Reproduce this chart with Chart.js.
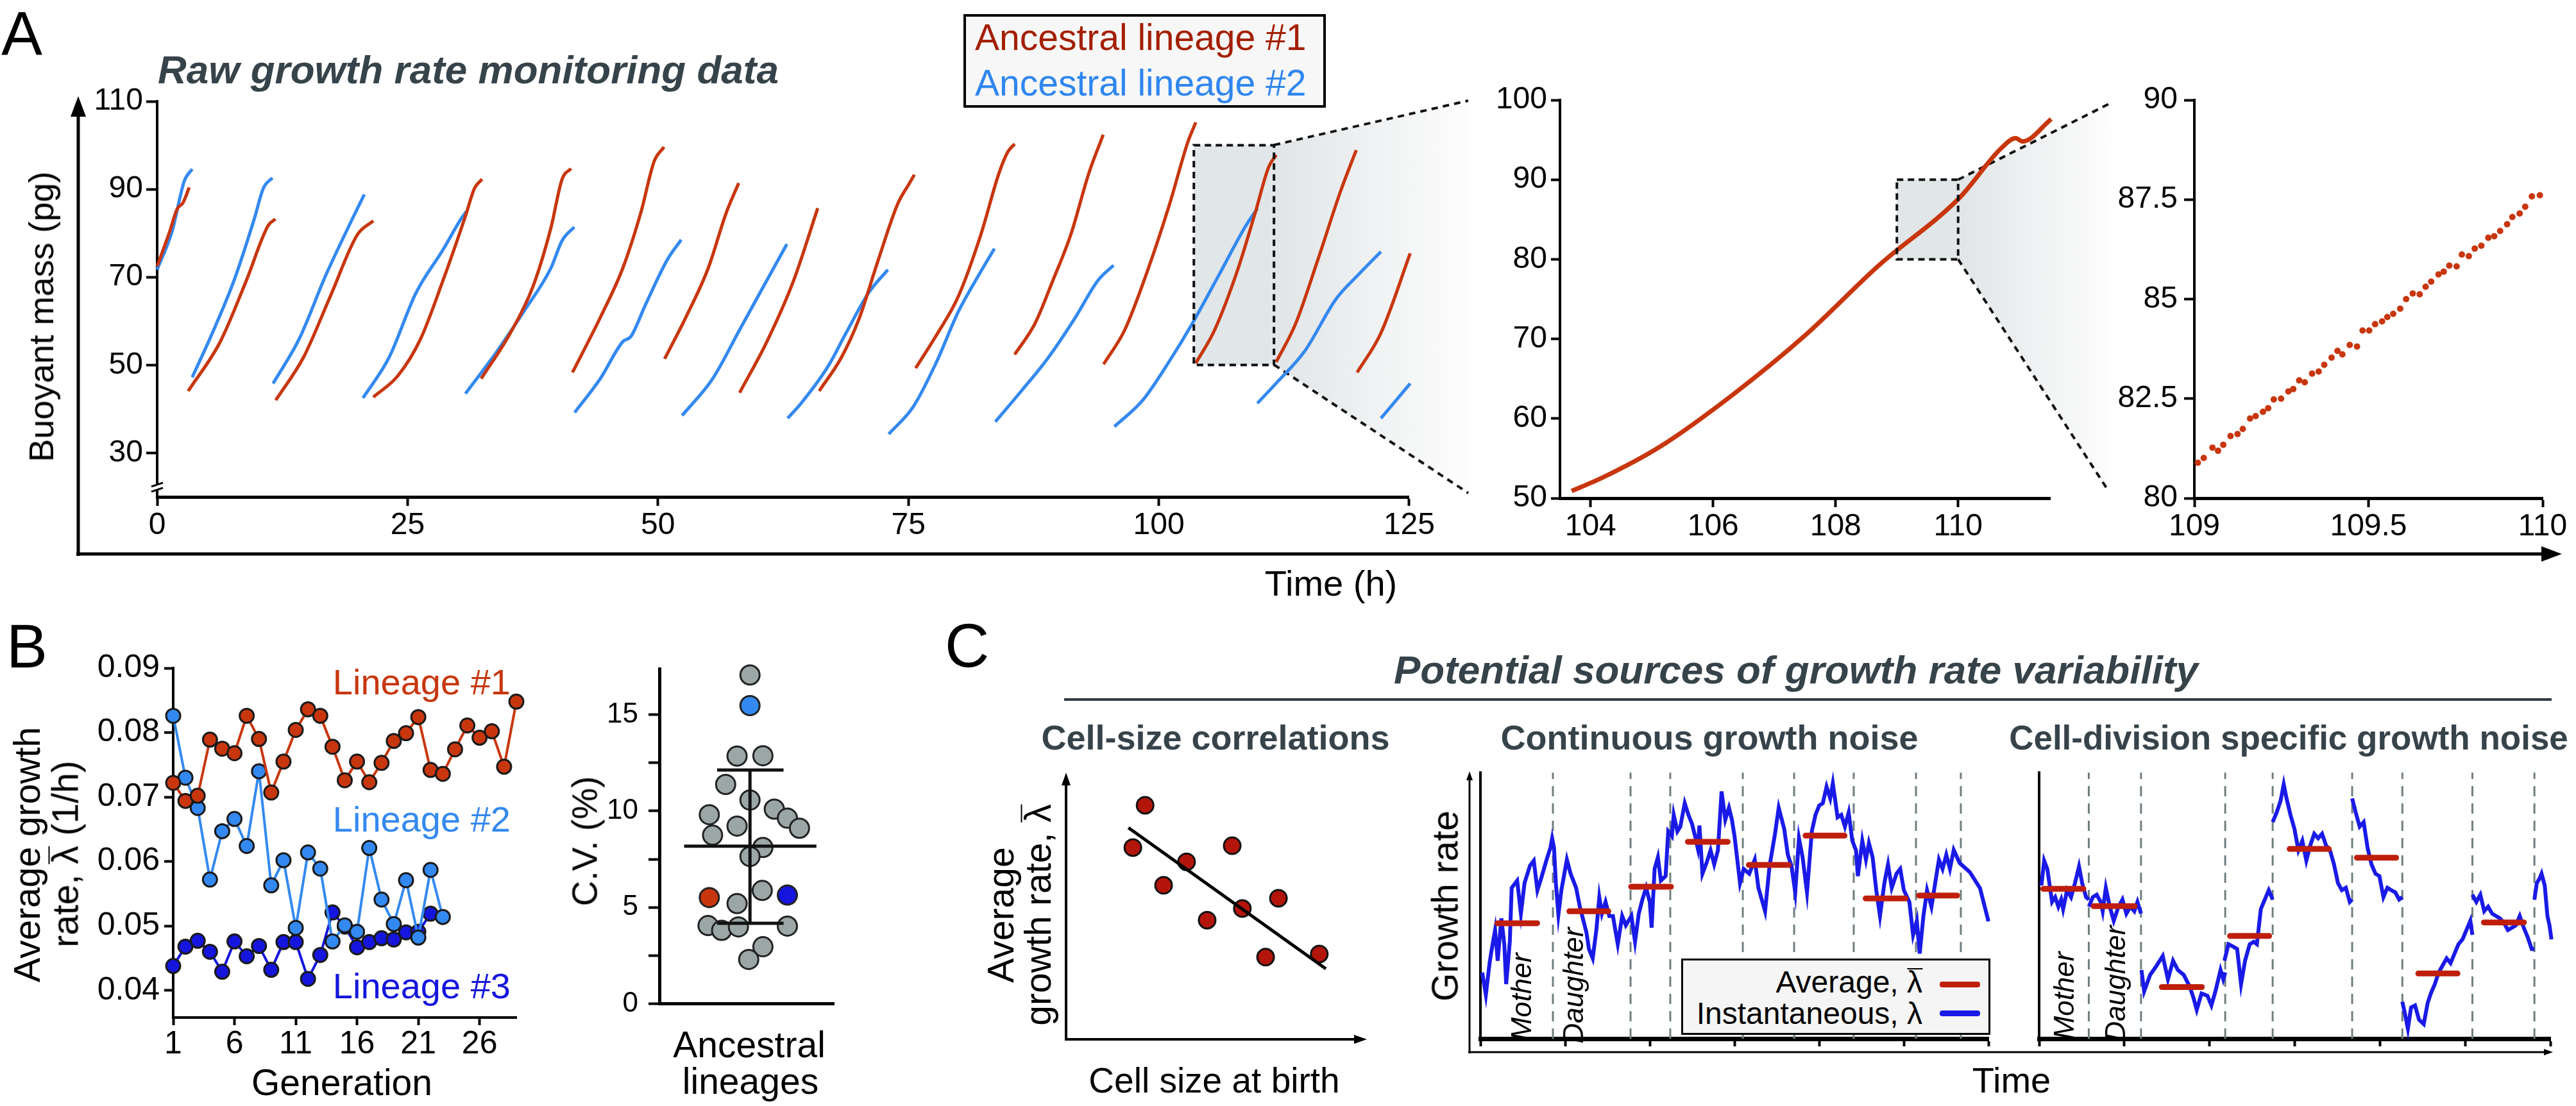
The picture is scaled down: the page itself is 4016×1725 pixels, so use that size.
<!DOCTYPE html>
<html>
<head>
<meta charset="utf-8">
<script src="https://cdn.jsdelivr.net/npm/chart.js@4.4.1/dist/chart.umd.min.js"></script>
<style>
  html, body { margin: 0; padding: 0; background: #fff; }
  body { width: 4016px; height: 1725px; position: relative; overflow: hidden; font-family: "Liberation Sans", Arial, sans-serif; }
  canvas { position: absolute; }
  .t { position: absolute; white-space: nowrap; line-height: 1; z-index: 3; }
  .ol { display: inline-block; line-height: 0.8; border-top: 0.05em solid currentColor; padding-top: 0.03em; }
  .box { position: absolute; box-sizing: border-box; z-index: 2; }
</style>
</head>
<body>
<canvas id="overlay" width="4016" height="1725" style="left:0;top:0;z-index:0"></canvas>
<script>
// ---- Panel A: buoyant mass (pg) against time (h), one [t, m] list per cell cycle ----
const lineage1Cycles = [
  [[0, 72.5], [1.2, 80], [2.0, 85.5], [2.6, 87], [3.2, 90.4]],
  [[3.1, 44.1], [6.3, 55.3], [8.9, 69.2], [11.1, 81.8], [11.8, 83.2]],
  [[11.84, 42.0], [14.62, 51.8], [17.3, 65.7], [20.0, 79.7], [21.58, 82.8]],
  [[21.58, 42.7], [24.05, 47.6], [26.29, 55.9], [28.53, 69.2], [30.78, 83.9], [31.68, 90.2], [32.44, 92.3]],
  [[32.35, 46.9], [35.27, 57.3], [37.51, 67.8], [39.3, 81.1], [40.43, 92.3], [41.32, 94.7]],
  [[41.46, 48.3], [44.24, 60.8], [46.48, 72.0], [48.28, 84.6], [49.63, 96.4], [50.61, 99.6]],
  [[50.66, 51.4], [52.77, 60.8], [55.01, 72.0], [56.81, 84.6], [58.06, 91.4]],
  [[58.15, 43.7], [60.85, 55.2], [63.54, 69.2], [65.95, 85.7]],
  [[66.1, 44.1], [68.33, 51.8], [70.12, 60.8], [71.92, 73.4], [73.94, 86.7], [75.06, 91.2], [75.6, 93.3]],
  [[75.73, 49.3], [77.75, 56.6], [80.0, 65.7], [82.24, 79.7], [84.04, 93.6], [84.93, 98.5], [85.61, 100.3]],
  [[85.61, 52.4], [87.63, 59.4], [89.42, 69.2], [91.22, 79.7], [93.01, 93.6], [94.45, 102.4]],
  [[94.49, 50.2], [96.6, 58.0], [98.85, 71.3], [101.09, 86.7], [102.88, 100.6], [103.69, 105.2]],
  [[103.69, 50.4], [105.58, 58.0], [107.82, 71.3], [109.62, 84.6], [110.96, 95.0], [111.72, 97.8]],
  [[111.72, 50.7], [113.66, 59.4], [115.9, 74.1], [118.14, 89.5], [119.71, 98.9]],
  [[119.8, 48.3], [122.18, 57.3], [125.1, 75.4]]
];
const lineage2Cycles = [
  [[0, 71.7], [1.5, 80.5], [2.7, 91.8], [3.5, 94.6]],
  [[3.5, 47.2], [5.65, 58.0], [7.67, 69.2], [9.69, 83.2], [10.6, 90.2], [11.5, 92.6]],
  [[11.57, 45.8], [14.17, 55.9], [16.87, 70.6], [19.33, 82.5], [20.68, 88.8]],
  [[20.55, 42.5], [23.15, 51.7], [25.84, 66.4], [28.53, 76.2], [30.33, 83.2], [30.87, 84.9]],
  [[30.78, 43.5], [33.92, 53.1], [36.61, 62.2], [39.3, 72.0], [40.43, 78.3], [41.64, 81.4]],
  [[41.68, 39.2], [44.24, 46.9], [46.48, 55.3], [47.3, 56.5], [48.73, 63.6], [50.97, 74.1], [52.32, 78.5]],
  [[52.41, 38.5], [55.46, 46.9], [58.15, 58.0], [60.85, 69.2], [62.87, 77.5]],
  [[62.95, 37.9], [64.29, 41.3], [66.98, 49.7], [68.78, 57.3], [71.02, 66.4], [72.95, 71.7]],
  [[73.04, 34.3], [75.51, 40.6], [77.75, 50.4], [80.0, 62.2], [82.24, 71.3], [83.59, 76.5]],
  [[83.68, 37.1], [86.28, 44.1], [88.97, 51.7], [91.66, 60.8], [93.91, 69.2], [95.48, 72.7]],
  [[95.57, 36.0], [98.4, 42.0], [101.09, 51.0], [103.33, 59.4], [106.03, 70.6], [108.72, 81.8], [109.84, 85.6]],
  [[109.84, 41.3], [111.86, 46.2], [114.55, 53.1], [117.69, 65.0], [119.94, 70.6], [122.18, 75.8]],
  [[122.18, 37.9], [125.1, 45.8]]
];
// zoom on the lineage #1 cycle at 103.7-111.5 h, and the raw points between 109 and 110 h
const zoomCycle = [[103.69, 50.9], [104.2, 52.6], [105.14, 56.5], [106.33, 63.05], [107.51, 70.5],
  [108.7, 79.2], [110.02, 87.7], [110.71, 94.0], [110.94, 95.2], [111.05, 94.8], [111.52, 97.6]];
const detailPoints = [
  [109.010, 80.89], [109.027, 81.01], [109.052, 81.27], [109.068, 81.19], [109.083, 81.34], [109.104, 81.56],
  [109.124, 81.61], [109.139, 81.74], [109.160, 82.00], [109.176, 82.06], [109.197, 82.17], [109.212, 82.26],
  [109.228, 82.48], [109.249, 82.50], [109.270, 82.68], [109.284, 82.74], [109.301, 82.96], [109.317, 82.91],
  [109.338, 83.13], [109.357, 83.18], [109.373, 83.35], [109.394, 83.53], [109.411, 83.70], [109.425, 83.61],
  [109.446, 83.85], [109.467, 83.81], [109.483, 84.21], [109.502, 84.21], [109.519, 84.37], [109.539, 84.44],
  [109.554, 84.55], [109.571, 84.63], [109.591, 84.76], [109.608, 85.00], [109.627, 85.14], [109.647, 85.12],
  [109.664, 85.31], [109.680, 85.44], [109.701, 85.62], [109.716, 85.69], [109.732, 85.84], [109.753, 85.82],
  [109.768, 86.12], [109.788, 86.08], [109.805, 86.27], [109.824, 86.34], [109.844, 86.54], [109.861, 86.58],
  [109.878, 86.71], [109.898, 86.88], [109.913, 87.06], [109.934, 87.15], [109.950, 87.32], [109.969, 87.58],
  [109.992, 87.61]
];
const zoomWindow = { x0: 103.5, x1: 111.5, y0: 50, y1: 100 };
const detailWindow = { x0: 109, x1: 110, y0: 80, y1: 90 };
const massTicks = [30, 50, 70, 90, 110];
const timeTicks = [0, 25, 50, 75, 100, 125];
const zoomTimeTicks = [104, 106, 108, 110];
const zoomMassTicks = [50, 60, 70, 80, 90, 100];
const detailTimeTicks = [109, 109.5, 110];
const detailMassTicks = [80, 82.5, 85, 87.5, 90];

// ---- Panel B ----
const lineage1Rates = [0.0722, 0.0694, 0.0702, 0.0789, 0.0775, 0.0768, 0.0826, 0.0790, 0.0707, 0.0755,
  0.0804, 0.0836, 0.0826, 0.0778, 0.0726, 0.0755, 0.0723, 0.0753, 0.0787, 0.0799, 0.0824, 0.0742, 0.0736,
  0.0774, 0.0811, 0.0792, 0.0802, 0.0747, 0.0848];
const lineage2Rates = [0.0826, 0.0730, 0.0683, 0.0572, 0.0647, 0.0666, 0.0624, 0.0740, 0.0563, 0.0602,
  0.0497, 0.0614, 0.0589, 0.0476, 0.0501, 0.0491, 0.0621, 0.0541, 0.0503, 0.0571, 0.0482, 0.0587, 0.0514];
const lineage3Rates = [0.0438, 0.0468, 0.0477, 0.0460, 0.0429, 0.0476, 0.0453, 0.0469, 0.0432, 0.0475,
  0.0475, 0.0418, 0.0455, 0.0521, 0.0499, 0.0467, 0.0475, 0.0481, 0.0479, 0.0490, 0.0491, 0.0519];
const generationTicks = [1, 6, 11, 16, 21, 26];
const rateTicks = [0.04, 0.05, 0.06, 0.07, 0.08, 0.09];
// C.V. (%) per ancestral lineage, with horizontal jitter
const cvOther = [17.06, 12.85, 12.87, 11.38, 10.57, 10.10, 9.81, 9.63, 9.11, 9.22, 8.75, 8.11, 7.64,
  5.88, 5.20, 4.06, 3.81, 3.99, 4.03, 2.96, 2.30];
const cvOtherJitter = [0, -0.154, 0.154, -0.29, 0, 0.29, -0.485, 0.446, 0.59, -0.154, -0.446, 0.154, 0,
  0.146, -0.154, -0.5, -0.338, -0.138, 0.446, 0.154, -0.015];
const cvLineage1 = [-0.485, 5.51];
const cvLineage2 = [0, 15.47];
const cvLineage3 = [0.446, 5.64];
const cvMean = 8.18, cvLow = 4.18, cvHigh = 12.13;
const cvTicks = [0, 2.5, 5, 7.5, 10, 12.5, 15];

// ---- Panel C (schematic) ----
const birthSize = [2.65, 2.24, 5.57, 4.04, 3.27, 7.12, 5.91, 4.73, 6.69, 8.49];
const birthRate = [8.86, 7.26, 7.33, 6.72, 5.83, 5.34, 4.95, 4.51, 3.11, 3.23];
const fitLine = [[2.09, 8.01], [8.71, 2.67]];
const cTimeTicks = [0, 1, 2, 3, 4, 5, 6];
const contTrace = [
  [0.021, 2.49], [0.064, 1.65], [0.108, 2.84], [0.130, 3.29], [0.173, 4.08], [0.204, 2.93], [0.247, 4.52],
  [0.282, 3.55], [0.304, 2.05], [0.347, 3.64], [0.369, 5.67], [0.434, 5.94], [0.478, 4.70], [0.521, 5.85],
  [0.586, 6.51], [0.630, 6.69], [0.673, 5.58], [0.717, 6.02], [0.782, 6.73], [0.826, 7.17], [0.847, 7.53],
  [0.869, 7.17], [0.891, 5.85], [0.921, 4.66], [0.956, 5.58], [1.021, 6.73], [1.065, 6.20], [1.130, 5.67],
  [1.174, 4.96], [1.217, 4.43], [1.252, 3.99], [1.282, 3.37], [1.326, 3.02], [1.369, 4.08], [1.404, 5.32],
  [1.435, 4.70], [1.478, 5.14], [1.522, 4.61], [1.565, 4.61], [1.622, 3.55], [1.674, 4.61], [1.717, 4.26],
  [1.783, 4.61], [1.826, 3.64], [1.870, 4.70], [1.913, 5.23], [1.957, 5.67], [2.000, 5.14], [2.022, 4.17],
  [2.057, 6.38], [2.096, 6.82], [2.131, 5.94], [2.187, 6.11], [2.218, 7.79], [2.261, 7.61], [2.283, 8.41],
  [2.326, 7.79], [2.361, 7.97], [2.413, 8.85], [2.457, 8.41], [2.500, 8.06], [2.535, 7.61], [2.566, 7.17],
  [2.587, 8.01], [2.622, 6.20], [2.674, 6.64], [2.718, 7.08], [2.761, 6.55], [2.805, 7.08], [2.848, 9.29],
  [2.892, 8.23], [2.935, 8.68], [2.970, 8.23], [3.001, 7.61], [3.066, 5.85], [3.109, 6.38], [3.175, 6.20],
  [3.240, 6.73], [3.283, 5.67], [3.362, 4.79], [3.414, 6.47], [3.479, 7.70], [3.523, 8.68], [3.588, 7.88],
  [3.631, 6.91], [3.675, 6.47], [3.718, 5.50], [3.762, 7.53], [3.805, 6.82], [3.857, 5.50], [3.914, 7.79],
  [3.957, 8.41], [4.001, 8.76], [4.044, 8.85], [4.088, 9.47], [4.131, 9.03], [4.162, 9.60], [4.218, 8.32],
  [4.262, 8.41], [4.305, 7.97], [4.349, 8.50], [4.392, 7.44], [4.436, 7.08], [4.458, 6.11], [4.510, 7.44],
  [4.553, 6.73], [4.588, 7.35], [4.632, 6.82], [4.675, 5.58], [4.719, 4.61], [4.771, 5.85], [4.814, 6.55],
  [4.858, 5.67], [4.914, 6.20], [4.958, 6.38], [5.001, 5.58], [5.066, 5.14], [5.110, 3.90], [5.154, 4.43],
  [5.188, 3.20], [5.232, 4.61], [5.275, 5.58], [5.327, 4.96], [5.371, 5.85], [5.415, 6.73], [5.458, 6.38],
  [5.502, 6.91], [5.545, 6.38], [5.59, 7.09], [5.66, 6.60], [5.78, 6.26], [5.90, 5.66], [6.0, 4.41]
];
const contMeans = [[0.2, 0.67, 4.34], [1.05, 1.51, 4.79], [1.78, 2.25, 5.71], [2.45, 2.92, 7.40],
  [3.17, 3.64, 6.53], [3.84, 4.30, 7.63], [4.55, 5.02, 5.27], [5.18, 5.63, 5.38]];
const contDivisions = [0.856, 1.773, 2.242, 3.099, 3.705, 4.409, 5.144, 5.674];
const divTraces = [
  [[0.027, 5.76], [0.059, 6.69], [0.096, 6.38], [0.120, 5.85], [0.152, 5.14], [0.189, 5.32], [0.226, 4.96],
   [0.259, 5.23], [0.282, 4.87], [0.328, 5.58], [0.375, 5.32], [0.421, 5.85], [0.468, 6.47], [0.505, 5.85],
   [0.551, 5.32], [0.584, 5.23]],
  [[0.584, 4.96], [0.630, 5.32], [0.676, 5.41], [0.723, 5.14], [0.746, 4.79], [0.783, 5.67], [0.829, 4.96],
   [0.876, 4.43], [0.932, 4.96], [0.978, 5.23], [1.024, 4.70], [1.071, 4.96], [1.117, 4.79], [1.154, 5.14],
   [1.196, 4.70]],
  [[1.201, 2.58], [1.233, 1.78], [1.303, 2.40], [1.372, 2.71], [1.451, 3.11], [1.512, 2.23], [1.572, 2.93],
   [1.628, 2.58], [1.697, 2.40], [1.767, 1.96], [1.813, 1.52], [1.850, 1.08], [1.906, 1.70], [1.976, 1.61],
   [2.022, 1.25], [2.069, 1.78], [2.129, 2.58], [2.161, 2.23], [2.185, 2.49]],
  [[2.175, 2.93], [2.222, 3.55], [2.277, 3.46], [2.324, 3.37], [2.370, 2.05], [2.417, 2.93], [2.472, 3.55],
   [2.519, 3.64], [2.556, 3.55], [2.602, 4.87], [2.649, 5.23], [2.695, 5.58], [2.741, 5.23]],
  [[2.741, 8.14], [2.788, 8.50], [2.834, 8.94], [2.871, 9.56], [2.904, 9.03], [2.950, 8.41], [2.997, 7.88],
   [3.043, 7.08], [3.089, 7.44], [3.136, 6.69], [3.182, 7.26], [3.229, 7.70], [3.275, 7.53], [3.321, 7.70],
   [3.368, 7.26], [3.414, 7.08], [3.461, 6.55], [3.507, 5.85], [3.553, 5.58], [3.600, 5.67], [3.646, 5.14],
   [3.674, 5.23]],
  [[3.674, 9.03], [3.716, 8.50], [3.762, 7.97], [3.809, 8.14], [3.855, 7.17], [3.901, 6.55], [3.948, 6.20],
   [3.994, 6.11], [4.041, 5.32], [4.087, 5.67], [4.133, 5.58], [4.180, 5.50], [4.226, 5.23], [4.263, 5.32]],
  [[4.263, 1.39], [4.296, 0.90], [4.328, 0.37], [4.365, 1.17], [4.412, 1.25], [4.458, 0.72], [4.514, 0.55],
   [4.560, 1.34], [4.597, 1.70], [4.644, 2.05], [4.690, 2.49], [4.737, 2.76], [4.783, 3.02], [4.829, 2.84],
   [4.876, 3.20], [4.922, 3.55], [4.969, 3.73], [5.015, 4.08], [5.061, 4.43], [5.085, 3.90]],
  [[5.085, 5.41], [5.131, 5.14], [5.178, 5.41], [5.224, 4.79], [5.270, 4.96], [5.317, 4.70], [5.363, 4.61],
   [5.409, 4.52], [5.456, 4.35], [5.502, 4.08], [5.549, 4.17], [5.595, 4.26], [5.641, 4.61], [5.688, 4.17],
   [5.734, 3.82], [5.781, 3.37], [5.813, 3.37]],
  [[5.813, 5.23], [5.841, 5.85], [5.874, 6.02], [5.897, 6.20], [5.934, 5.76], [5.966, 4.61], [5.990, 4.26],
   [6.013, 3.73]]
];
const divMeans = [[0.05, 0.52, 5.63], [0.64, 1.12, 4.98], [1.44, 1.91, 1.94], [2.24, 2.70, 3.86],
  [2.94, 3.40, 7.13], [3.73, 4.19, 6.80], [4.45, 4.91, 2.45], [5.22, 5.69, 4.37]];
const divDivisions = [0.583, 1.196, 2.184, 2.741, 3.674, 4.263, 5.085, 5.813];

// colours
const RED = '#c8360e', BLUE = '#3389f0', DKBLUE = '#1515dd', GRAY = '#9ba6a6';
const C_RED = '#bf1e0b', C_BLUE = '#1a1ae8', SLATE = '#37434a';

Chart.defaults.font.family = "'Liberation Sans', Arial, sans-serif";
Chart.defaults.color = '#000';

const pts = arr => arr.map(([x, y]) => ({ x, y }));

// put a chart so that its plot area lands on the given page rectangle
function chartAt(plot, pad, config) {
  const c = document.createElement('canvas');
  c.width = Math.round(plot.r - plot.l + pad.l + pad.r);
  c.height = Math.round(plot.b - plot.t + pad.t + pad.b);
  c.style.left = (plot.l - pad.l) + 'px';
  c.style.top = (plot.t - pad.t) + 'px';
  c.style.zIndex = 1;
  document.body.appendChild(c);
  const sc = config.options.scales;
  const hideX = sc.x.display === false, hideY = sc.y.display === false;
  if (!hideX) sc.x.afterFit = s => { s.height = pad.b; };
  if (!hideY) sc.y.afterFit = s => { s.width = pad.l; };
  config.options = Object.assign({
    responsive: false, animation: false, devicePixelRatio: 1, events: [],
    layout: { padding: { left: hideY ? pad.l : 0, top: pad.t, right: pad.r, bottom: hideX ? pad.b : 0 } },
    plugins: { legend: { display: false }, tooltip: { enabled: false } }
  }, config.options);
  const chart = new Chart(c, config);
  chart.$left = plot.l - pad.l;
  chart.$top = plot.t - pad.t;
  return chart;
}

function axis(min, max, ticks, o) {
  return {
    type: 'linear', min, max,
    afterBuildTicks: s => { s.ticks = ticks.map(v => ({ value: v })); },
    border: { display: true, color: '#000', width: o.bw },
    grid: { display: o.tl > 0, drawOnChartArea: false, drawTicks: true, tickLength: o.tl || 0,
            tickWidth: o.tw || 4, tickColor: '#000', color: '#000' },
    ticks: { display: !!o.fs, padding: o.pad || 0, font: { size: o.fs || 10 }, color: '#000',
             autoSkip: false, maxRotation: 0, callback: o.fmt || (v => String(v)) }
  };
}

function lineSet(data, color, width, extra) {
  return Object.assign({ data: pts(data), showLine: true, borderColor: color, borderWidth: width,
    pointRadius: 0, fill: false, clip: false }, extra);
}

function windowBox(w) {
  return {
    id: 'window',
    beforeDatasetsDraw(chart) {
      const { ctx, scales: { x, y } } = chart;
      ctx.save();
      ctx.fillStyle = '#e1e6e8';
      ctx.fillRect(x.getPixelForValue(w.x0), y.getPixelForValue(w.y1),
        x.getPixelForValue(w.x1) - x.getPixelForValue(w.x0), y.getPixelForValue(w.y0) - y.getPixelForValue(w.y1));
      ctx.restore();
    },
    afterDatasetsDraw(chart) {
      const { ctx, scales: { x, y } } = chart;
      ctx.save();
      ctx.setLineDash([10, 7]);
      ctx.lineWidth = 4;
      ctx.strokeStyle = '#111';
      ctx.strokeRect(x.getPixelForValue(w.x0), y.getPixelForValue(w.y1),
        x.getPixelForValue(w.x1) - x.getPixelForValue(w.x0), y.getPixelForValue(w.y0) - y.getPixelForValue(w.y1));
      ctx.restore();
    }
  };
}

const axisBreak = {
  id: 'axisBreak',
  afterDraw(chart) {
    const { ctx, chartArea: a, scales: { y } } = chart;
    const py = y.getPixelForValue(22.2);
    ctx.save();
    ctx.fillStyle = '#fff';
    ctx.fillRect(a.left - 8, py - 4, 16, 8);
    ctx.strokeStyle = '#000';
    ctx.lineWidth = 3;
    [-4, 4].forEach(d => {
      ctx.beginPath(); ctx.moveTo(a.left - 9, py + d + 3); ctx.lineTo(a.left + 9, py + d - 3); ctx.stroke();
    });
    ctx.restore();
  }
};

// ---- Panel A charts ----
const mainA = chartAt({ l: 245, t: 157.6, r: 2199, b: 774.6 }, { l: 130, t: 40, r: 40, b: 70 }, {
  type: 'scatter',
  data: { datasets: [
    ...lineage1Cycles.map(c => lineSet(c, RED, 5, { cubicInterpolationMode: 'monotone', order: 1 })),
    ...lineage2Cycles.map(c => lineSet(c, BLUE, 5, { cubicInterpolationMode: 'monotone', order: 2 }))
  ] },
  options: { scales: {
    x: axis(0, 125, timeTicks, { bw: 5, tl: 14, tw: 4, fs: 48, pad: 2 }),
    y: axis(20, 110, massTicks, { bw: 4, tl: 17, tw: 4, fs: 48, pad: 5 })
  } },
  plugins: [windowBox(zoomWindow), axisBreak]
});

const midA = chartAt({ l: 2432, t: 156, r: 3196, b: 777 }, { l: 125, t: 40, r: 40, b: 70 }, {
  type: 'scatter',
  data: { datasets: [lineSet(zoomCycle, RED, 7, { cubicInterpolationMode: 'monotone' })] },
  options: { scales: {
    x: axis(103.5, 111.5, zoomTimeTicks, { bw: 5, tl: 14, tw: 4, fs: 48, pad: 2 }),
    y: axis(50, 100, zoomMassTicks, { bw: 4, tl: 14, tw: 4, fs: 48, pad: 6 })
  } },
  plugins: [windowBox(detailWindow)]
});

const rightA = chartAt({ l: 3421, t: 156, r: 3964, b: 777 }, { l: 135, t: 40, r: 50, b: 70 }, {
  type: 'scatter',
  data: { datasets: [{ data: pts(detailPoints), pointRadius: 5, pointBackgroundColor: RED,
    pointBorderWidth: 0, clip: false }] },
  options: { scales: {
    x: axis(109, 110, detailTimeTicks, { bw: 5, tl: 14, tw: 4, fs: 48, pad: 2 }),
    y: axis(80, 90, detailMassTicks, { bw: 4, tl: 16, tw: 4, fs: 48, pad: 10 })
  } }
});

// ---- Panel B charts ----
function lineageSet(rates, color, order) {
  return { data: rates.map((v, i) => ({ x: i + 1, y: v })), showLine: true, borderColor: color,
    borderWidth: 4, pointRadius: 11, pointBackgroundColor: color, pointBorderColor: '#1a1a1a',
    pointBorderWidth: 3, clip: false, order };
}
const rateB = chartAt({ l: 270, t: 1042.4, r: 805, b: 1587.6 }, { l: 135, t: 40, r: 30, b: 80 }, {
  type: 'scatter',
  data: { datasets: [lineageSet(lineage1Rates, RED, 1), lineageSet(lineage2Rates, BLUE, 2),
    lineageSet(lineage3Rates, DKBLUE, 3)] },
  options: { scales: {
    x: axis(1, 29, generationTicks, { bw: 4, tl: 12, tw: 4, fs: 50, pad: 0 }),
    y: axis(0.0358, 0.09, rateTicks, { bw: 4, tl: 14, tw: 4, fs: 50, pad: 7, fmt: v => v.toFixed(2) })
  } }
});

const cvDot = (data, color) => ({ data, pointRadius: 15, pointBackgroundColor: color,
  pointBorderColor: '#222', pointBorderWidth: 3, clip: false, order: 2 });
const cvB = chartAt({ l: 1028, t: 1040.5, r: 1300, b: 1587.6 }, { l: 120, t: 40, r: 20, b: 20 }, {
  type: 'scatter',
  data: { datasets: [
    cvDot(cvOther.map((v, i) => ({ x: cvOtherJitter[i], y: v })), GRAY),
    cvDot([{ x: cvLineage1[0], y: cvLineage1[1] }], RED),
    cvDot([{ x: cvLineage2[0], y: cvLineage2[1] }], BLUE),
    cvDot([{ x: cvLineage3[0], y: cvLineage3[1] }], DKBLUE),
    lineSet([[-0.785, cvMean], [0.792, cvMean]], '#111', 5, { order: 1 }),
    lineSet([[0, cvLow], [0, cvHigh]], '#111', 5, { order: 1 }),
    lineSet([[-0.392, cvHigh], [0.4, cvHigh]], '#111', 5, { order: 1 }),
    lineSet([[-0.392, cvLow], [0.4, cvLow]], '#111', 5, { order: 1 })
  ] },
  options: { scales: {
    x: axis(-1.08, 1, [], { bw: 5, tl: 0 }),
    y: axis(0, 17.37, cvTicks, { bw: 5, tl: 17, tw: 4, fs: 44, pad: 16, fmt: v => (v % 5 === 0 ? String(v) : '') })
  } }
});

// ---- Panel C charts ----
const sizeC = chartAt({ l: 1662, t: 1209, r: 2127, b: 1621 }, { l: 30, t: 30, r: 30, b: 30 }, {
  type: 'scatter',
  data: { datasets: [
    lineSet(fitLine, '#000', 5, { order: 1 }),
    { data: birthSize.map((x, i) => ({ x, y: birthRate[i] })), pointRadius: 13,
      pointBackgroundColor: '#b3150b', pointBorderColor: '#111', pointBorderWidth: 3, clip: false, order: 2 }
  ] },
  options: { scales: { x: { type: 'linear', min: 0, max: 10, display: false },
                       y: { type: 'linear', min: 0, max: 10, display: false } } }
});

function noiseSets(traces, means, divisions) {
  return [
    ...means.map(([a, b, v]) => lineSet([[a, v], [b, v]], C_RED, 9, { borderCapStyle: 'round', order: 1 })),
    ...traces.map(t => lineSet(t, C_BLUE, 6, { order: 2 })),
    ...divisions.map(d => lineSet([[d, 0], [d, 10]], '#6f7f80', 3, { borderDash: [16, 11], order: 3 }))
  ];
}
const cAxes = () => ({
  x: axis(0, 6, cTimeTicks, { bw: 7, tl: 12, tw: 4 }),
  y: axis(0, 10, [], { bw: 4, tl: 0 })
});
const contC = chartAt({ l: 2308, t: 1205, r: 3100, b: 1620 }, { l: 20, t: 20, r: 20, b: 25 }, {
  type: 'scatter',
  data: { datasets: noiseSets([contTrace], contMeans, contDivisions) },
  options: { scales: cAxes() }
});
const divC = chartAt({ l: 3179, t: 1205, r: 3976, b: 1620 }, { l: 20, t: 20, r: 20, b: 25 }, {
  type: 'scatter',
  data: { datasets: noiseSets(divTraces, divMeans, divDivisions) },
  options: { scales: cAxes() }
});

// ---- decorations behind the charts: arrows, zoom connectors ----
function pagePt(chart, x, y) {
  return [chart.$left + chart.scales.x.getPixelForValue(x), chart.$top + chart.scales.y.getPixelForValue(y)];
}
function arrow(ctx, x1, y1, x2, y2, lw, hl, hw) {
  const a = Math.atan2(y2 - y1, x2 - x1), c = Math.cos(a), s = Math.sin(a);
  ctx.strokeStyle = ctx.fillStyle = '#000';
  ctx.lineWidth = lw;
  ctx.beginPath(); ctx.moveTo(x1, y1); ctx.lineTo(x2 - c * hl * 0.8, y2 - s * hl * 0.8); ctx.stroke();
  ctx.beginPath(); ctx.moveTo(x2, y2);
  ctx.lineTo(x2 - c * hl + s * hw, y2 - s * hl - c * hw);
  ctx.lineTo(x2 - c * hl - s * hw, y2 - s * hl + c * hw);
  ctx.closePath(); ctx.fill();
}
function connector(ctx, a, b, c, d) {
  const g = ctx.createLinearGradient(a[0], 0, c[0], 0);
  g.addColorStop(0, '#e1e5e7');
  g.addColorStop(1, '#fdfdfd');
  ctx.fillStyle = g;
  ctx.beginPath(); ctx.moveTo(a[0], a[1]); ctx.lineTo(c[0], c[1]); ctx.lineTo(d[0], d[1]); ctx.lineTo(b[0], b[1]);
  ctx.closePath(); ctx.fill();
  ctx.setLineDash([10, 8]);
  ctx.lineWidth = 4;
  ctx.strokeStyle = '#111';
  ctx.beginPath(); ctx.moveTo(a[0], a[1]); ctx.lineTo(c[0], c[1]); ctx.stroke();
  ctx.beginPath(); ctx.moveTo(b[0], b[1]); ctx.lineTo(d[0], d[1]); ctx.stroke();
  ctx.setLineDash([]);
}
(function drawOverlay() {
  const ctx = document.getElementById('overlay').getContext('2d');
  connector(ctx, pagePt(mainA, zoomWindow.x1, zoomWindow.y1), pagePt(mainA, zoomWindow.x1, zoomWindow.y0),
    [2289, 157], [2289, 769]);
  connector(ctx, pagePt(midA, detailWindow.x1, detailWindow.y1), pagePt(midA, detailWindow.x1, detailWindow.y0),
    [3292, 160], [3286, 764]);
  arrow(ctx, 122, 867, 122, 150, 5, 32, 12);
  arrow(ctx, 119, 864, 3994, 864, 5, 32, 12);
  arrow(ctx, 2291, 1643, 2291, 1203, 3, 14, 5);
  arrow(ctx, 2289, 1641, 3980, 1641, 3, 14, 5);
  const [sx, sy] = pagePt(sizeC, 0, 0);
  arrow(ctx, sx, sy + 2, sx, 1205, 4, 20, 7);
  arrow(ctx, sx - 2, sy, 2131, sy, 4, 20, 7);
})();

// ---- text ----
function label(html, x, y, size, o = {}) {
  const d = document.createElement('div');
  d.className = 't';
  d.innerHTML = html;
  d.style.left = x + 'px';
  d.style.top = y + 'px';
  d.style.fontSize = size + 'px';
  d.style.color = o.color || '#000';
  if (o.weight) d.style.fontWeight = o.weight;
  if (o.italic) d.style.fontStyle = 'italic';
  if (o.family) d.style.fontFamily = o.family;
  const tx = o.align === 'left' ? '0' : o.align === 'right' ? '-100%' : '-50%';
  d.style.transform = `translate(${tx},-50%)` + (o.rotate ? ' rotate(-90deg)' : '');
  document.body.appendChild(d);
}
function box(l, t, w, h, css) {
  const d = document.createElement('div');
  d.className = 'box';
  Object.assign(d.style, { left: l + 'px', top: t + 'px', width: w + 'px', height: h + 'px' }, css);
  document.body.appendChild(d);
}
const NARROW = "'Liberation Sans Narrow', 'Liberation Sans', Arial, sans-serif";
const LAMBDA_BAR = '<span class="ol">λ</span>';

label('A', 2, 52, 96, { align: 'left' });
label('Raw growth rate monitoring data', 246, 109, 62, { align: 'left', weight: 'bold', italic: true, color: SLATE });
box(1502, 22, 565, 146, { border: '4px solid #000', background: '#f7f7f7' });
label('Ancestral lineage #1', 1520, 58, 57, { align: 'left', color: '#a31f00' });
label('Ancestral lineage #2', 1520, 129, 57, { align: 'left', color: '#2f86f0' });
label('Buoyant mass (pg)', 64, 494, 54, { rotate: true });
label('Time (h)', 2075, 910, 56);

label('B', 10, 1008, 96, { align: 'left' });
label('Average growth', 42, 1333, 57, { rotate: true });
label('rate, ' + LAMBDA_BAR + ' (1/h)', 102, 1332, 57, { rotate: true });
label('Lineage #1', 796, 1064, 56, { align: 'right', color: RED });
label('Lineage #2', 796, 1278, 56, { align: 'right', color: BLUE });
label('Lineage #3', 796, 1538, 56, { align: 'right', color: DKBLUE });
label('Generation', 533, 1688, 57);
label('C.V. (%)', 912, 1312, 55, { rotate: true });
label('Ancestral', 1168, 1629, 57);
label('lineages', 1170, 1686, 57);

label('C', 1473, 1007, 96, { align: 'left' });
label('Potential sources of growth rate variability', 2800, 1045, 62, { weight: 'bold', italic: true, color: SLATE });
box(1659, 1089, 2319, 4, { background: '#2c3a3f' });
label('Cell-size correlations', 1895, 1150, 54, { weight: 'bold', color: SLATE });
label('Continuous growth noise', 2665, 1150, 54, { weight: 'bold', color: SLATE });
label('Cell-division specific growth noise', 3568, 1150, 53, { weight: 'bold', color: SLATE });
label('Average', 1560, 1427, 57, { rotate: true });
label('growth rate, ' + LAMBDA_BAR, 1618, 1427, 57, { rotate: true });
label('Cell size at birth', 1893, 1685, 55);
label('Growth rate', 2253, 1413, 57, { rotate: true });
label('Mother', 2372, 1555, 44, { rotate: true, italic: true, family: NARROW });
label('Daughter', 2453, 1537, 44, { rotate: true, italic: true, family: NARROW });
label('Mother', 3218, 1553, 44, { rotate: true, italic: true, family: NARROW });
label('Daughter', 3298, 1534, 44, { rotate: true, italic: true, family: NARROW });
box(2621, 1495, 482, 119, { border: '3px solid #000', background: '#f5f5f5' });
label('Average, ' + LAMBDA_BAR, 2997, 1532, 48, { align: 'right' });
label('Instantaneous, λ', 2997, 1581, 48, { align: 'right' });
box(3024, 1531, 63, 9, { background: C_RED, borderRadius: '4px' });
box(3024, 1576, 63, 9, { background: C_BLUE, borderRadius: '4px' });
label('Time', 3136, 1685, 56);
</script>
</body>
</html>
